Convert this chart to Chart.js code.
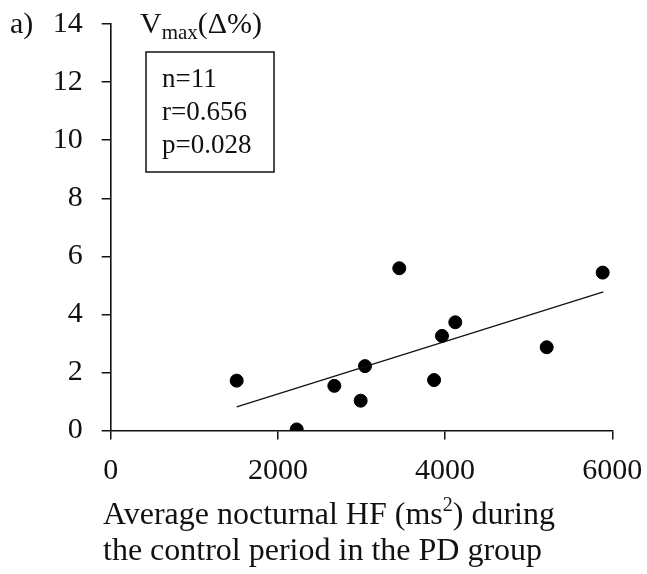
<!DOCTYPE html>
<html>
<head>
<meta charset="utf-8">
<script src="https://cdn.jsdelivr.net/npm/chart.js@4/dist/chart.umd.min.js"></script>
<style>
  html, body { margin: 0; padding: 0; background: #fff; }
  #wrap { width: 647px; height: 574px; position: relative; }
</style>
</head>
<body>
<div id="wrap"><canvas id="c" width="647" height="574"></canvas></div>
<script>
// Data
const hfValues = [1507, 2225, 2675, 2990, 3042, 3452, 3868, 3963, 4122, 5215, 5885];
const vmaxValues = [1.72, 0.04, 1.54, 1.03, 2.22, 5.59, 1.74, 3.26, 3.73, 2.87, 5.44];
const trendX = [1507, 5893];
const trendY = [0.82, 4.78];
const xTicks = [0, 2000, 4000, 6000];
const yTicks = [0, 2, 4, 6, 8, 10, 12, 14];
const statsLines = ['n=11', 'r=0.656', 'p=0.028'];
const panelLabel = 'a)';
const yTitleMain = 'V';
const yTitleSub = 'max';
const yTitleTail = '(\u0394%)';
const xTitleLines = ['Average nocturnal HF (ms', '2', ') during', 'the control period in the PD group'];

const FONT = '"Liberation Serif", "Times New Roman", serif';

const scatterPts = hfValues.map((x, i) => ({ x: x, y: vmaxValues[i] }));
const trendPts = trendX.map((x, i) => ({ x: x, y: trendY[i] }));

const annot = {
  id: 'annot',
  afterDraw(chart) {
    const ctx = chart.ctx;
    ctx.save();
    ctx.fillStyle = '#111';
    ctx.textBaseline = 'alphabetic';
    ctx.textAlign = 'left';
    // panel label
    ctx.font = '30px ' + FONT;
    ctx.fillText(panelLabel, 10, 33);
    // y title with subscript
    let x = 140;
    ctx.font = '30px ' + FONT;
    ctx.fillText(yTitleMain, x, 33);
    x += ctx.measureText(yTitleMain).width;
    ctx.font = '21px ' + FONT;
    ctx.fillText(yTitleSub, x, 39);
    x += ctx.measureText(yTitleSub).width;
    ctx.font = '30px ' + FONT;
    ctx.fillText(yTitleTail, x, 33);
    // stats box
    ctx.strokeStyle = '#111';
    ctx.lineWidth = 1.5;
    ctx.strokeRect(146, 52, 128, 120);
    ctx.font = '27px ' + FONT;
    const bl = [87, 120, 153];
    statsLines.forEach((s, i) => ctx.fillText(s, 162, bl[i]));
    // x title
    ctx.font = '32px ' + FONT;
    let tx = 103;
    ctx.fillText(xTitleLines[0], tx, 524);
    tx += ctx.measureText(xTitleLines[0]).width;
    ctx.font = '20px ' + FONT;
    ctx.fillText(xTitleLines[1], tx, 511);
    tx += ctx.measureText(xTitleLines[1]).width;
    ctx.font = '32px ' + FONT;
    ctx.fillText(xTitleLines[2], tx, 524);
    ctx.fillText(xTitleLines[3], 103, 560);
    ctx.restore();
  }
};

new Chart(document.getElementById('c'), {
  type: 'scatter',
  data: {
    datasets: [
      {
        label: 'trend',
        type: 'line',
        data: trendPts,
        borderColor: '#111',
        borderWidth: 1.3,
        pointRadius: 0,
        fill: false,
        tension: 0
      },
      {
        label: 'points',
        data: scatterPts,
        backgroundColor: '#000',
        borderColor: '#000',
        pointRadius: 6.5,
        pointHoverRadius: 6.5
      }
    ]
  },
  options: {
    responsive: false,
    animation: false,
    devicePixelRatio: 1,
    layout: { padding: { top: 24, right: 34.7, left: 0, bottom: 0 } },
    plugins: { legend: { display: false }, tooltip: { enabled: false } },
    scales: {
      x: {
        type: 'linear',
        min: 0, max: 6000,
        afterBuildTicks(s) { s.ticks = xTicks.map(v => ({ value: v })); },
        afterFit(s) { s.height = 143.4; s.paddingLeft = 0; s.paddingRight = 0; },
        ticks: { font: { family: FONT, size: 30 }, color: '#111', padding: 14, maxRotation: 0,
                 callback: v => String(v) },
        grid: { drawOnChartArea: false, drawTicks: true, tickLength: 9, color: '#111', lineWidth: 1.5 },
        border: { display: true, color: '#111', width: 1.6 }
      },
      y: {
        type: 'linear',
        min: 0, max: 14,
        afterBuildTicks(s) { s.ticks = yTicks.map(v => ({ value: v })); },
        afterFit(s) { s.width = 110.7; s.paddingTop = 0; s.paddingBottom = 0; },
        ticks: { font: { family: FONT, size: 30 }, color: '#111', padding: 19,
                 callback: v => String(v) },
        grid: { drawOnChartArea: false, drawTicks: true, tickLength: 9, color: '#111', lineWidth: 1.5 },
        border: { display: true, color: '#111', width: 1.6 }
      }
    }
  },
  plugins: [annot]
});
</script>
</body>
</html>
